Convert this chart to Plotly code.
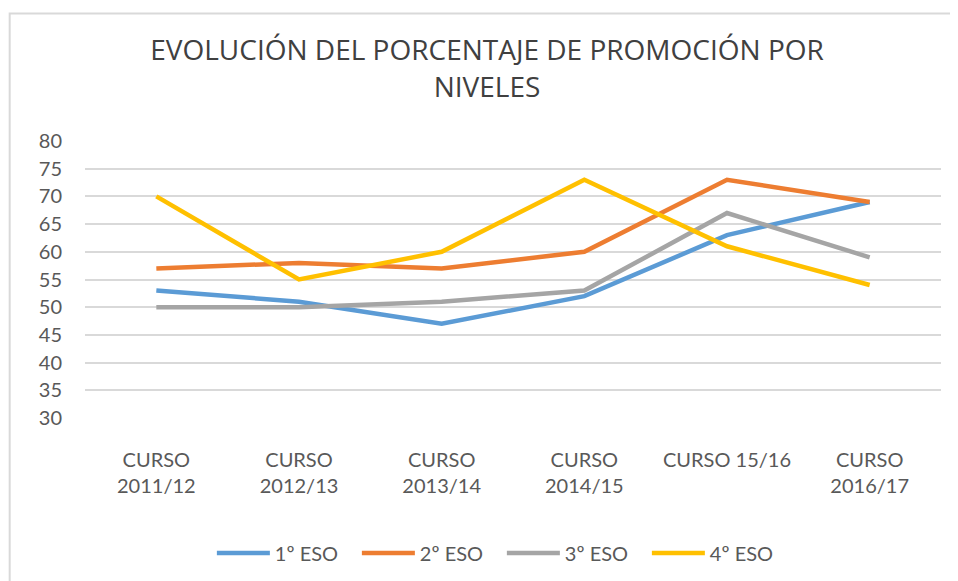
import plotly.graph_objects as go

cursos = ["CURSO<br>2011/12", "CURSO<br>2012/13", "CURSO<br>2013/14",
          "CURSO<br>2014/15", "CURSO 15/16", "CURSO<br>2016/17"]

eso1 = [53, 51, 47, 52, 63, 69]
eso2 = [57, 58, 57, 60, 73, 69]
eso3 = [50, 50, 51, 53, 67, 59]
eso4 = [70, 55, 60, 73, 61, 54]

series = [
    ("1º ESO", eso1, "#5B9BD5"),
    ("2º ESO", eso2, "#ED7D31"),
    ("3º ESO", eso3, "#A5A5A5"),
    ("4º ESO", eso4, "#FFC000"),
]

fig = go.Figure()
for name, vals, color in series:
    fig.add_trace(go.Scatter(
        x=cursos, y=vals, name=name, mode="lines",
        line={"color": color, "width": 4.5},
    ))

# page body has an 8px margin, so plot area lands at x 85..941, y 141..418
fig.update_layout(
    width=958, height=581,
    margin={"l": 77, "r": 25, "t": 133, "b": 171},
    paper_bgcolor="white", plot_bgcolor="white",
    font={"family": "Lato", "color": "#595959", "size": 20},
    title={
        "text": "EVOLUCIÓN DEL PORCENTAJE DE PROMOCIÓN POR<br>NIVELES",
        "x": 0.5, "xanchor": "center", "y": 0.91, "yanchor": "top",
        "font": {"family": "Open Sans", "size": 28, "color": "#404040"},
    },
    xaxis={
        "range": [-0.5, 5.5], "showgrid": False, "showline": False,
        "ticks": "", "ticklabelstandoff": 28,
        "tickfont": {"size": 20, "color": "#595959"},
    },
    yaxis={
        "range": [30, 80], "dtick": 5, "showgrid": True,
        "gridcolor": "#d9d9d9", "gridwidth": 1.5, "zeroline": False,
        "ticklabelstandoff": 22,
        "tickfont": {"size": 20, "color": "#595959"},
    },
    legend={
        "orientation": "h", "x": 0.487, "xanchor": "center",
        "y": -0.417, "yanchor": "top",
        "font": {"size": 20, "color": "#595959"},
        "itemwidth": 53, "entrywidth": 77, "entrywidthmode": "pixels",
    },
    shapes=[{
        "type": "rect", "xref": "paper", "yref": "paper",
        "x0": -0.088, "x1": 1.2, "y0": -0.8, "y1": 1.46,
        "line": {"color": "#d9d9d9", "width": 2}, "layer": "below",
    }],
)

fig.write_html("out.html")
